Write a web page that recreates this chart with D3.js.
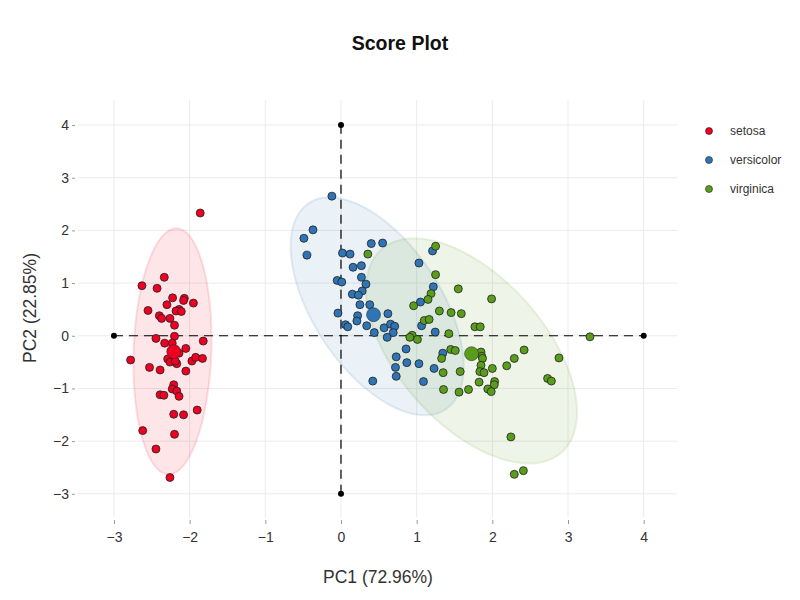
<!DOCTYPE html>
<html>
<head>
<meta charset="utf-8">
<script src="https://cdn.jsdelivr.net/npm/d3@7"></script>
<style>
body { margin: 0; background: #fff; }
text { font-family: Helvetica, "Liberation Sans", Arial, sans-serif; }
</style>
</head>
<body>
<svg id="chart" width="800" height="600"></svg>
<script>
// scores, [PC1, PC2]
var setosa = [
  [-1.86,2.33],[-2.335,1.11],[-2.63,0.95],[-2.43,0.90],[-2.225,0.72],[-2.07,0.71],[-2.08,0.67],
  [-1.95,0.62],[-2.30,0.59],[-2.55,0.48],[-2.14,0.50],[-2.18,0.47],[-2.11,0.46],[-2.40,0.38],
  [-2.37,0.33],[-2.26,0.33],[-2.20,0.20],[-2.445,-0.05],[-2.20,-0.01],[-1.82,-0.10],[-2.33,-0.14],
  [-2.23,-0.14],[-2.05,-0.24],[-2.14,-0.33],[-2.29,-0.44],[-2.26,-0.50],[-2.17,-0.53],[-2.19,-0.48],
  [-2.78,-0.46],[-1.97,-0.48],[-1.92,-0.41],[-1.83,-0.43],[-2.53,-0.60],[-2.39,-0.65],[-2.05,-0.67],
  [-2.21,-0.93],[-2.23,-1.01],[-2.17,-1.05],[-2.14,-1.15],[-2.39,-1.12],[-2.34,-1.13],[-2.21,-1.49],
  [-2.08,-1.50],[-1.90,-1.41],[-2.62,-1.80],[-2.20,-1.87],[-2.445,-2.15],[-2.26,-2.69]
];
var versicolor = [
  [-0.12,2.65],[-0.37,2.01],[-0.49,1.85],[-0.45,1.53],[0.02,1.57],[0.12,1.55],[0.40,1.75],
  [0.55,1.76],[0.16,1.30],[0.27,1.33],[0.27,1.11],[-0.05,1.05],[0.01,1.02],[0.33,0.98],
  [0.28,0.85],[0.15,0.79],[0.23,0.77],[1.03,1.38],[1.21,1.61],[1.22,0.93],[1.05,0.64],
  [-0.04,0.43],[0.25,0.59],[0.38,0.59],[0.62,0.42],[0.22,0.38],[0.21,0.28],[0.06,0.21],
  [0.09,0.17],[0.34,0.19],[0.44,0.06],[0.57,0.15],[0.655,0.22],[0.71,0.18],[0.69,0.06],
  [0.61,-0.03],[1.065,0.19],[1.245,0.07],[0.86,-0.25],[0.73,-0.40],[0.87,-0.51],[1.03,-0.53],
  [0.72,-0.60],[1.23,-0.62],[0.73,-0.77],[0.42,-0.86],[1.09,-0.87],[1.345,-0.33]
];
var virginica = [
  [0.355,1.55],[1.25,1.70],[1.25,1.16],[1.19,0.80],[1.15,0.69],[0.96,0.57],[1.10,0.29],
  [1.165,0.31],[0.94,0.01],[0.91,-0.03],[1.01,-0.07],[1.30,0.47],[1.55,0.89],[1.99,0.70],
  [1.455,0.44],[1.59,0.42],[1.77,0.17],[1.84,0.17],[1.425,0.04],[3.29,-0.02],[1.45,-0.26],
  [1.51,-0.28],[1.85,-0.31],[1.86,-0.39],[1.87,-0.43],[1.33,-0.43],[2.42,-0.27],[2.29,-0.43],
  [2.88,-0.42],[1.85,-0.56],[2.19,-0.57],[2.00,-0.62],[1.35,-0.70],[1.575,-0.68],[1.835,-0.68],
  [1.89,-0.70],[2.73,-0.81],[2.78,-0.86],[1.825,-0.88],[2.03,-0.87],[2.025,-0.93],[1.355,-1.02],
  [1.685,-1.02],[1.56,-1.07],[1.94,-1.01],[1.985,-1.06],[2.245,-1.92],[2.41,-2.56],[2.29,-2.63]
];
var centroids = [[-2.21,-0.30],[0.43,0.40],[1.725,-0.34]];
var species = ["setosa","versicolor","virginica"];
var colors = ["#ee0022","#2f74b5","#5a9c1c"];
var ticks = [-3,-2,-1,0,1,2,3,4];
var hLine = [[-3,0],[4,0]];
var vLine = [[0,-3],[0,4]];

var groups = [setosa, versicolor, virginica];
var svg = d3.select("#chart");

var x = d3.scaleLinear().domain([-3.475, 4.44]).range([78, 677]);
var y = d3.scaleLinear().domain([-3.44, 4.475]).range([517, 100]);

// grid
svg.append("g").selectAll("line").data(ticks).enter().append("line")
  .attr("x1", d => x(d)).attr("x2", d => x(d)).attr("y1", 100).attr("y2", 517)
  .attr("stroke", "#ebebeb");
svg.append("g").selectAll("line").data(ticks).enter().append("line")
  .attr("y1", d => y(d)).attr("y2", d => y(d)).attr("x1", 78).attr("x2", 677)
  .attr("stroke", "#ebebeb");

// axes, small grey ticks
var xAxis = svg.append("g").attr("transform", "translate(0,520)")
  .call(d3.axisBottom(x).tickValues(ticks).tickSize(4).tickPadding(8));
var yAxis = svg.append("g").attr("transform", "translate(75,0)")
  .call(d3.axisLeft(y).tickValues(ticks).tickSize(3).tickPadding(3));
[xAxis, yAxis].forEach(function(a){
  a.select(".domain").remove();
  a.selectAll(".tick line").attr("stroke", "#999");
  a.selectAll(".tick text").attr("fill", "#333").style("font-size", "14px");
});

// 95% confidence ellipses
function ellipse(pts){
  var mx = d3.mean(pts, d => d[0]), my = d3.mean(pts, d => d[1]);
  var n = pts.length;
  var a = d3.sum(pts, d => (d[0]-mx)*(d[0]-mx))/(n-1);
  var c = d3.sum(pts, d => (d[1]-my)*(d[1]-my))/(n-1);
  var b = d3.sum(pts, d => (d[0]-mx)*(d[1]-my))/(n-1);
  var m = (a+c)/2, r = Math.sqrt((a-c)*(a-c)/4 + b*b);
  var l1 = m + r, l2 = m - r;
  var th = 0.5*Math.atan2(2*b, a-c);
  var k = Math.sqrt(5.991);
  return d3.range(0, 101).map(function(i){
    var t = i/100*2*Math.PI;
    var u = k*Math.sqrt(l1)*Math.cos(t), v = k*Math.sqrt(l2)*Math.sin(t);
    return [mx + u*Math.cos(th) - v*Math.sin(th), my + u*Math.sin(th) + v*Math.cos(th)];
  });
}
var line = d3.line().x(d => x(d[0])).y(d => y(d[1]));

svg.append("g").selectAll("path").data(groups).enter().append("path")
  .attr("d", d => line(ellipse(d)))
  .attr("fill", (d,i) => colors[i]).attr("fill-opacity", 0.1)
  .attr("stroke", (d,i) => colors[i]).attr("stroke-opacity", 0.12).attr("stroke-width", 2);

// dashed zero lines with end dots
[hLine, vLine].forEach(function(l){
  svg.append("path").attr("d", line(l)).attr("stroke", "#000").attr("stroke-width", 1.2)
    .attr("stroke-dasharray", "9,6").attr("fill", "none");
  svg.append("g").selectAll("circle").data(l).enter().append("circle")
    .attr("cx", d => x(d[0])).attr("cy", d => y(d[1])).attr("r", 3).attr("fill", "#000");
});

// points
groups.forEach(function(g, i){
  svg.append("g").selectAll("circle").data(g).enter().append("circle")
    .attr("cx", d => x(d[0])).attr("cy", d => y(d[1])).attr("r", 4)
    .attr("fill", colors[i]).attr("stroke", "#222").attr("stroke-width", 0.8);
});
svg.append("g").selectAll("circle").data(centroids).enter().append("circle")
  .attr("cx", d => x(d[0])).attr("cy", d => y(d[1])).attr("r", 7)
  .attr("fill", (d,i) => colors[i]).attr("stroke", "#222").attr("stroke-width", 0.5);

// titles
svg.append("text").attr("x", 400).attr("y", 50).attr("text-anchor", "middle")
  .style("font-size", "19.5px").style("font-weight", "bold").attr("fill", "#111").text("Score Plot");
svg.append("text").attr("x", 378).attr("y", 583).attr("text-anchor", "middle")
  .style("font-size", "17.5px").attr("fill", "#333").text("PC1 (72.96%)");
svg.append("text").attr("transform", "translate(36,308) rotate(-90)").attr("text-anchor", "middle")
  .style("font-size", "17.5px").attr("fill", "#333").text("PC2 (22.85%)");

// legend
var leg = svg.append("g").selectAll("g").data(species).enter().append("g")
  .attr("transform", (d,i) => "translate(709," + (131 + i*29) + ")");
leg.append("circle").attr("r", 3.5).attr("fill", (d,i) => colors[i])
  .attr("stroke", "#222").attr("stroke-width", 0.6);
leg.append("text").attr("x", 21).attr("y", 4).style("font-size", "12px").attr("fill", "#333")
  .text(d => d);
</script>
</body>
</html>
